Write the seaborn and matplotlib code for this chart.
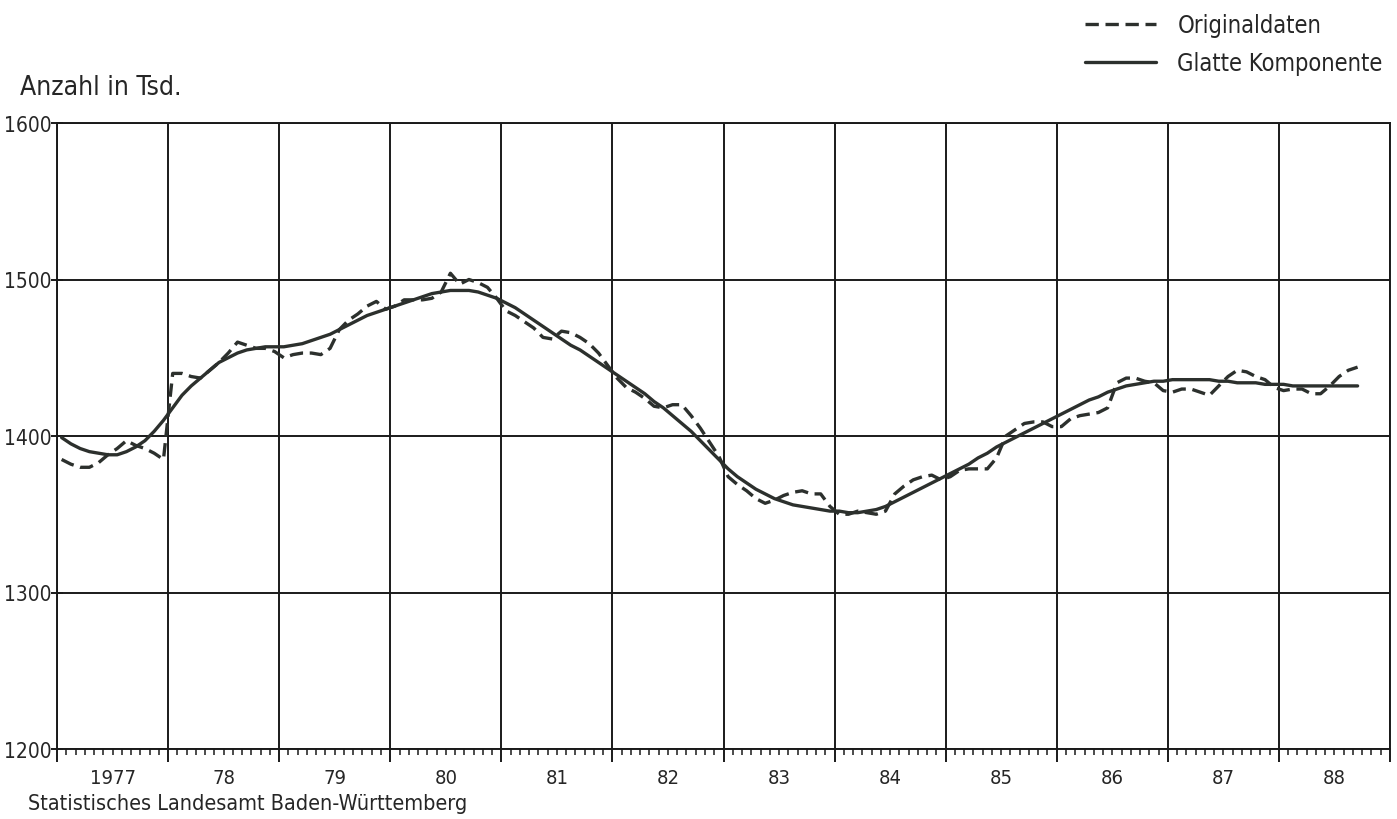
import numpy as np
import pandas as pd
import seaborn as sns
import matplotlib.pyplot as plt

# Monatswerte Jan 1977 - Sep 1988 (Anzahl in Tsd.)
jahre = ['1977', '78', '79', '80', '81', '82', '83', '84', '85', '86', '87', '88']

original = [
    1385, 1382, 1380, 1380, 1383, 1388, 1392, 1397, 1394, 1392, 1389, 1385,  # 1977
    1440, 1440, 1438, 1437, 1442, 1447, 1453, 1460, 1458, 1456, 1456, 1454,  # 1978
    1450, 1452, 1453, 1453, 1452, 1456, 1468, 1474, 1478, 1483, 1486, 1481,  # 1979
    1483, 1487, 1487, 1487, 1488, 1492, 1504, 1497, 1500, 1498, 1495, 1488,  # 1980
    1480, 1477, 1473, 1469, 1463, 1462, 1467, 1466, 1463, 1459, 1453, 1445,  # 1981
    1437, 1431, 1428, 1424, 1419, 1418, 1420, 1420, 1413, 1405, 1396, 1387,  # 1982
    1374, 1369, 1365, 1360, 1357, 1359, 1362, 1364, 1365, 1363, 1363, 1355,  # 1983
    1350, 1350, 1352, 1351, 1350, 1352, 1363, 1368, 1372, 1374, 1375, 1372,  # 1984
    1374, 1378, 1379, 1379, 1379, 1386, 1400, 1404, 1408, 1409, 1409, 1406,  # 1985
    1406, 1411, 1413, 1414, 1415, 1418, 1434, 1437, 1437, 1435, 1434, 1429,  # 1986
    1428, 1430, 1430, 1428, 1426, 1432, 1438, 1442, 1441, 1438, 1436, 1431,  # 1987
    1429, 1430, 1430, 1427, 1427, 1432, 1438, 1442, 1444,                    # 1988
]

glatt = [
    1399, 1395, 1392, 1390, 1389, 1388, 1388, 1390, 1393, 1397, 1403, 1410,
    1418, 1426, 1432, 1437, 1442, 1447, 1450, 1453, 1455, 1456, 1457, 1457,
    1457, 1458, 1459, 1461, 1463, 1465, 1468, 1471, 1474, 1477, 1479, 1481,
    1483, 1485, 1487, 1489, 1491, 1492, 1493, 1493, 1493, 1492, 1490, 1488,
    1485, 1482, 1478, 1474, 1470, 1466, 1462, 1458, 1455, 1451, 1447, 1443,
    1439, 1435, 1431, 1427, 1422, 1418, 1413, 1408, 1403, 1397, 1391, 1385,
    1379, 1374, 1370, 1366, 1363, 1360, 1358, 1356, 1355, 1354, 1353, 1352,
    1352, 1351, 1351, 1352, 1353, 1355, 1358, 1361, 1364, 1367, 1370, 1373,
    1376, 1379, 1382, 1386, 1389, 1393, 1396, 1399, 1402, 1405, 1408, 1411,
    1414, 1417, 1420, 1423, 1425, 1428, 1430, 1432, 1433, 1434, 1435, 1435,
    1436, 1436, 1436, 1436, 1436, 1435, 1435, 1434, 1434, 1434, 1433, 1433,
    1433, 1432, 1432, 1432, 1432, 1432, 1432, 1432, 1432,
]

# Monatsmitte als x-Position (0 = Anfang 1977)
monat = np.arange(len(original)) + 0.5
df = pd.concat([
    pd.DataFrame({'monat': monat, 'wert': original, 'reihe': 'Originaldaten'}),
    pd.DataFrame({'monat': monat, 'wert': glatt, 'reihe': 'Glatte Komponente'}),
])

sns.set_style('white')
plt.rcParams['font.family'] = ['DejaVu Sans']
plt.rcParams['font.stretch'] = 'condensed'

ink = '#2c302d'
grid = '#1a1a1a'
fig = plt.figure(figsize=(13.97, 8.2), dpi=100)
ax = fig.add_axes([57 / 1397, 70 / 820, 1333 / 1397, 626 / 820])

sns.lineplot(
    data=df, x='monat', y='wert', style='reihe',
    dashes={'Originaldaten': (4, 2), 'Glatte Komponente': ''},
    color=ink, linewidth=2.4, ax=ax,
)

ax.set_xlim(0, 144)
ax.set_ylim(1200, 1600)
ax.set_xlabel('')
ax.set_ylabel('')

# Gitter an Jahresgrenzen und 100er-Schritten
ax.set_xticks(np.arange(0, 145, 12))
ax.set_xticks(np.arange(0, 145, 1), minor=True)
ax.set_xticklabels([])
ax.set_yticks([1200, 1300, 1400, 1500, 1600])
ax.grid(True, which='major', color=grid, linewidth=1.4)
ax.set_axisbelow(True)
for s in ax.spines.values():
    s.set_color(grid)
    s.set_linewidth(1.4)

ax.tick_params(axis='x', which='major', direction='out', length=9, width=1.4,
               color=grid, bottom=True)
ax.tick_params(axis='x', which='minor', direction='out', length=4, width=1.1,
               color=grid, bottom=True)
ax.tick_params(axis='y', direction='inout', length=8, width=1.4, color=grid,
               left=True, labelsize=15, pad=0)

# Jahresbeschriftung in der Mitte jedes Jahres
sec = ax.secondary_xaxis('bottom')
sec.set_xticks(np.arange(6, 144, 12), jahre)
sec.tick_params(length=0, labelsize=14.5, pad=14)
sec.spines['bottom'].set_visible(False)

fig.text(20 / 1397, 1 - 88 / 820, 'Anzahl in Tsd.', fontsize=19, va='center')
fig.text(28 / 1397, 1 - 804 / 820, 'Statistisches Landesamt Baden-Württemberg',
         fontsize=15.5, va='center')

sns.move_legend(ax, 'upper right', bbox_to_anchor=(1.0, 1.0),
                bbox_transform=fig.transFigure, frameon=False, title=None,
                fontsize=17, handlelength=3.0, handletextpad=0.9,
                labelspacing=0.6, borderaxespad=0.2)

fig.savefig('out.png', dpi=100, facecolor='white')
